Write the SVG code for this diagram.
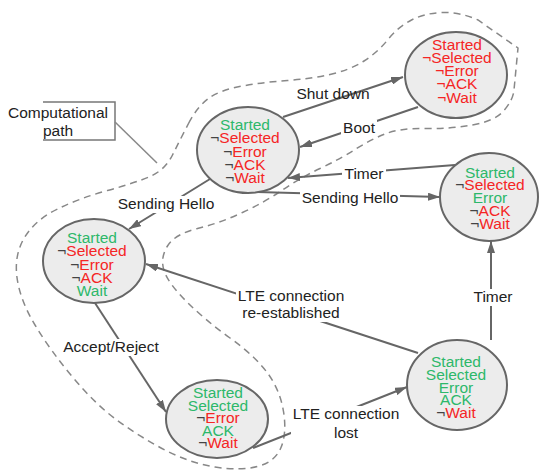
<svg xmlns="http://www.w3.org/2000/svg" width="541" height="474" viewBox="0 0 541 474">
<defs>
<style>
.node{fill:#ececec;stroke:#666;stroke-width:2}
.t{font-family:"Liberation Sans",Arial,sans-serif;font-size:15.5px;text-anchor:middle}
.g{fill:#2db86a}
.r{fill:#f52525}
.n{fill:#444}
.edge{stroke:#666;stroke-width:2;fill:none;marker-end:url(#arr)}
.bg{fill:#fff}
.lbl{font-family:"Liberation Sans",Arial,sans-serif;font-size:15.5px;fill:#222;text-anchor:middle}
.path{fill:none;stroke:#888;stroke-width:1.5;stroke-dasharray:7 5}
</style>
<marker id="arr" viewBox="0 0 12 8" refX="12" refY="4" markerWidth="12" markerHeight="8" orient="auto" markerUnits="userSpaceOnUse"><path d="M0,0 L12,4 L0,8 Z" fill="#666"/></marker>
</defs>
<rect width="541" height="474" fill="#fff"/>
<g id="computational-path">
<path class="path" d="M188.5,123.5 Q197,107 208.5,98.5 Q220,90 242.5,86 Q265,82 287.5,80.5 Q310,79 330,74.5 Q350,70 364,61 Q378,52 388,39.5 Q398,27 411.5,20 Q425,13 442.5,12.5 Q460,12 478,20 L518,48 L514,90 Q513,100 504,110.5 Q495,121 472.5,125 Q450,129 425,128.5 Q400,128 385,134 Q370,140 355,149.5 Q340,159 320,168.5 Q300,178 282.5,190 Q265,202 242.5,212.5 Q220,223 197.5,228.5 Q175,234 167.5,246 Q160,258 164,270.5 Q168,283 186.5,301.5 Q205,320 230,338 Q255,356 267.5,373 Q280,390 283.5,411.5 Q287,433 281,447.5 Q275,462 257.5,466.5 Q240,471 215,467 Q190,463 165,450 Q140,437 117.5,420.5 Q95,404 72.5,377 Q50,350 35,325 Q20,300 17,277.5 Q14,255 24.5,237.5 Q35,220 57.5,209 Q80,198 107.5,190.5 Q135,183 150,176.5 Q165,170 172.5,155 Q180,140 188.5,123.5 Z"/>
</g>
<g id="callout">
<path d="M43,102 H115 V140 H43" fill="#fff" stroke="#777" stroke-width="1.5"/>
<line x1="115" y1="122" x2="157" y2="163" stroke="#888" stroke-width="1.5"/>
<rect class="bg" x="6" y="104" width="104" height="17"/>
<text class="lbl" style="text-anchor:start" x="8" y="117.5">Computational</text>
<text class="lbl" style="text-anchor:start" x="43" y="135.5">path</text>
</g>
<g id="connectors">
<path class="edge" d="M283,117 L403,77"/>
<path class="edge" d="M418,107 L300,147"/>
<path class="edge" d="M455,165 L288,178"/>
<path class="edge" d="M257,192 L440,197"/>
<path class="edge" d="M210,179 L129,229"/>
<path class="edge" d="M418,353 L146,264"/>
<path class="edge" d="M95,303 L166,412"/>
<path class="edge" d="M253,448 L407,387"/>
<path class="edge" d="M491,340 L491,241"/>
<rect class="bg" x="341" y="120" width="36" height="17"/>
<rect class="bg" x="342" y="166" width="44" height="17"/>
<rect class="bg" x="300" y="190" width="100" height="17"/>
<rect class="bg" x="116" y="196" width="100" height="17"/>
<rect class="bg" x="236" y="288" width="110" height="34"/>
<rect class="bg" x="62" y="339" width="98" height="17"/>
<rect class="bg" x="291" y="406" width="110" height="36"/>
<rect class="bg" x="472" y="289" width="42" height="17"/>
<text class="lbl" x="333" y="98.5">Shut down</text>
<text class="lbl" x="359" y="132.5">Boot</text>
<text class="lbl" x="364" y="178.5">Timer</text>
<text class="lbl" x="350" y="202.5">Sending Hello</text>
<text class="lbl" x="166" y="208.5">Sending Hello</text>
<text class="lbl" x="291" y="300.5">LTE connection</text>
<text class="lbl" x="291" y="317.5">re-established</text>
<text class="lbl" x="111" y="351.5">Accept/Reject</text>
<text class="lbl" x="346" y="418.5">LTE connection</text>
<text class="lbl" x="346" y="437.5">lost</text>
<text class="lbl" x="493" y="301.5">Timer</text>
</g>
<g id="node-a">
<ellipse class="node" cx="248" cy="150" rx="51" ry="43"/>
<text class="t g" x="245" y="129.5">Started</text>
<text class="t r" x="245" y="143"><tspan class="n">¬</tspan>Selected</text>
<text class="t r" x="245" y="156.5"><tspan class="n">¬</tspan>Error</text>
<text class="t r" x="245" y="169.5"><tspan class="n">¬</tspan>ACK</text>
<text class="t r" x="245" y="182.5"><tspan class="n">¬</tspan>Wait</text>
</g>
<g id="node-b">
<ellipse class="node" cx="456" cy="75" rx="51" ry="43"/>
<text class="t r" x="457" y="49.5">Started</text>
<text class="t r" x="457" y="62.5">¬Selected</text>
<text class="t r" x="457" y="76">¬Error</text>
<text class="t r" x="457" y="89">¬ACK</text>
<text class="t r" x="457" y="102.5">¬Wait</text>
</g>
<g id="node-c">
<ellipse class="node" cx="489" cy="197" rx="49" ry="44"/>
<text class="t g" x="490" y="177.5">Started</text>
<text class="t r" x="490" y="190"><tspan class="n">¬</tspan>Selected</text>
<text class="t g" x="490" y="203">Error</text>
<text class="t r" x="490" y="216"><tspan class="n">¬</tspan>ACK</text>
<text class="t r" x="490" y="228.5"><tspan class="n">¬</tspan>Wait</text>
</g>
<g id="node-d">
<ellipse class="node" cx="94" cy="261" rx="51" ry="42"/>
<text class="t g" x="92" y="242.5">Started</text>
<text class="t r" x="92" y="256"><tspan class="n">¬</tspan>Selected</text>
<text class="t r" x="92" y="269.5"><tspan class="n">¬</tspan>Error</text>
<text class="t r" x="92" y="283"><tspan class="n">¬</tspan>ACK</text>
<text class="t g" x="92" y="296">Wait</text>
</g>
<g id="node-e">
<ellipse class="node" cx="217" cy="419" rx="51" ry="39"/>
<text class="t g" x="218" y="398">Started</text>
<text class="t g" x="218" y="410.5">Selected</text>
<text class="t r" x="218" y="423"><tspan class="n">¬</tspan>Error</text>
<text class="t g" x="218" y="435.5">ACK</text>
<text class="t r" x="218" y="448"><tspan class="n">¬</tspan>Wait</text>
</g>
<g id="node-f">
<ellipse class="node" cx="457" cy="385" rx="50" ry="45"/>
<text class="t g" x="456" y="367">Started</text>
<text class="t g" x="456" y="380">Selected</text>
<text class="t g" x="456" y="392.5">Error</text>
<text class="t g" x="456" y="405">ACK</text>
<text class="t r" x="456" y="418"><tspan class="n">¬</tspan>Wait</text>
</g>
</svg>
